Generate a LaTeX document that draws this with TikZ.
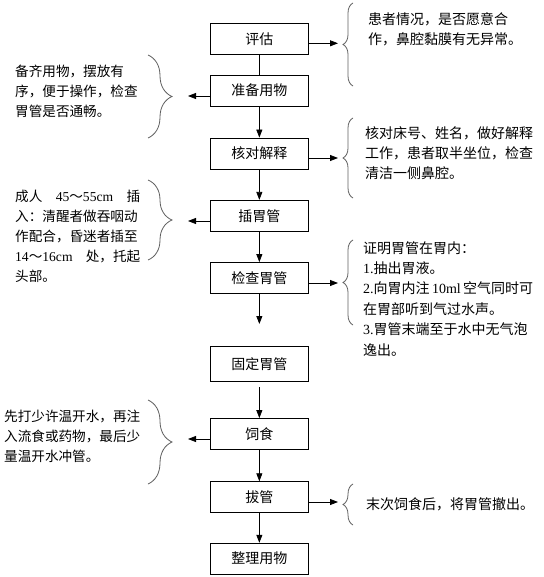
\documentclass[tikz,border=0pt]{standalone}
\usepackage{fontspec}
\setmainfont{Noto Sans CJK SC}
\newfontfamily\lat{Liberation Serif}
\usetikzlibrary{arrows.meta,decorations.pathreplacing}
\XeTeXinterchartokenstate=1
\XeTeXinterchartoks 1 1 = {\hskip 0pt plus 3pt\relax}
\XeTeXinterchartoks 1 3 = {\hskip 0pt plus 3pt\relax}
\XeTeXinterchartoks 3 1 = {\hskip 0pt plus 3pt\relax}
\XeTeXinterchartoks 3 3 = {\hskip 0pt plus 3pt\relax}
\newcommand\jl[2]{\makebox[#1pt][s]{#2}}
\definecolor{bracegray}{RGB}{95,95,95}
\tikzset{
  stepbox/.style={draw, line width=0.8pt, minimum width=97.3pt, minimum height=31pt, inner sep=0pt, font=\fontsize{14}{16}\selectfont},
  flow/.style={line width=0.8pt, -{Triangle[length=8pt,width=6pt]}},
  plainline/.style={line width=0.8pt},
  note/.style={anchor=north west, inner sep=0pt, align=left, font=\fontsize{14}{20}\selectfont},
  notel/.style={note, font=\fontsize{13.6}{20}\selectfont},
  bracel/.style={decorate, decoration={brace, amplitude=24pt}, draw=bracegray, line width=0.8pt},
  bracer/.style={decorate, decoration={brace, amplitude=10pt}, draw=bracegray, line width=0.8pt},
}
\begin{document}
\begin{tikzpicture}[x=1pt,y=-1pt]
\useasboundingbox (0,0) rectangle (543,577);
% main steps
\node[stepbox] (n1) at (259.35,38.7) {评估};
\node[stepbox] (n2) at (259.35,90.5) {准备用物};
\node[stepbox] (n3) at (259.35,153.5) {核对解释};
\node[stepbox] (n4) at (259.35,215.8) {插胃管};
\node[stepbox] (n5) at (259.35,278) {检查胃管};
\node[stepbox, minimum height=35pt] (n6) at (259.35,364.2) {固定胃管};
\node[stepbox] (n7) at (259.35,434) {饲食};
\node[stepbox] (n8) at (259.35,497.2) {拔管};
\node[stepbox] (n9) at (259.35,558.7) {整理用物};
% vertical connectors
\coordinate (d5) at (259.35,324);
\coordinate (d6) at (259.35,387);
\draw[plainline] (n1) -- (n2);
\draw[flow] (n2) -- (n3);
\draw[flow] (n3) -- (n4);
\draw[flow] (n4) -- (n5);
\draw[flow] (n5) -- (d5);
\draw[flow] (d6) -- (n7);
\draw[flow] (n7) -- (n8);
\draw[flow] (n8) -- (n9);
% side arrows
\coordinate (e1) at (338,43.3);
\coordinate (e3) at (338,158);
\coordinate (e5) at (338,283);
\coordinate (e8) at (338,502);
\coordinate (e2) at (188,96);
\coordinate (e4) at (188,221);
\coordinate (e7) at (188,439);
\draw[flow] (n1.east |- e1) -- (e1);
\draw[flow] (n3.east |- e3) -- (e3);
\draw[flow] (n5.east |- e5) -- (e5);
\draw[flow] (n8.east |- e8) -- (e8);
\draw[flow] (n2.west |- e2) -- (e2);
\draw[flow] (n4.west |- e4) -- (e4);
\draw[flow] (n7.west |- e7) -- (e7);
% braces
\draw[bracer] (353,86) -- (353,3);
\draw[bracer] (353,198) -- (353,118);
\draw[bracer] (353,325) -- (353,240);
\draw[bracer] (353,525) -- (353,484);
\draw[bracel] (148,55) -- (148,138);
\draw[bracel] (148,180) -- (148,260);
\draw[bracel] (148,400) -- (148,484);
% notes
\node[note] (t1) at (368,12) {\jl{147}{患者情况，是否愿意合}\\作，鼻腔黏膜有无异常。};
\node[notel] (t2) at (15,64.7) {\jl{122}{备齐用物，摆放有}\\\jl{122}{序，便于操作，检查}\\胃管是否通畅。};
\node[note] (t3) at (365,126) {\jl{168}{核对床号、姓名，做好解释}\\\jl{168}{工作，患者取半坐位，检查}\\清洁一侧鼻腔。};
\node[notel] (t4) at (15,189.7) {\jl{125}{成人 {\lat 45}～{\lat 55cm} 插}\\\jl{125}{入：清醒者做吞咽动}\\\jl{125}{作配合，昏迷者插至}\\\jl{125}{{\lat 14}～{\lat 16cm} 处，托起}\\头部。};
\node[note, font=\fontsize{14}{20.4}\selectfont] (t5) at (363,241) {证明胃管在胃内：\\{\lat 1.}抽出胃液。\\\jl{170}{{\lat 2.}向胃内注 {\lat 10ml} 空气同时可}\\在胃部听到气过水声。\\\jl{170}{{\lat 3.}胃管末端至于水中无气泡}\\逸出。};
\node[notel] (t7) at (4,410) {\jl{136}{先打少许温开水，再注}\\\jl{136}{入流食或药物，最后少}\\量温开水冲管。};
\node[note] (t8) at (366,497.7) {末次饲食后，将胃管撤出。};
\end{tikzpicture}
\end{document}
